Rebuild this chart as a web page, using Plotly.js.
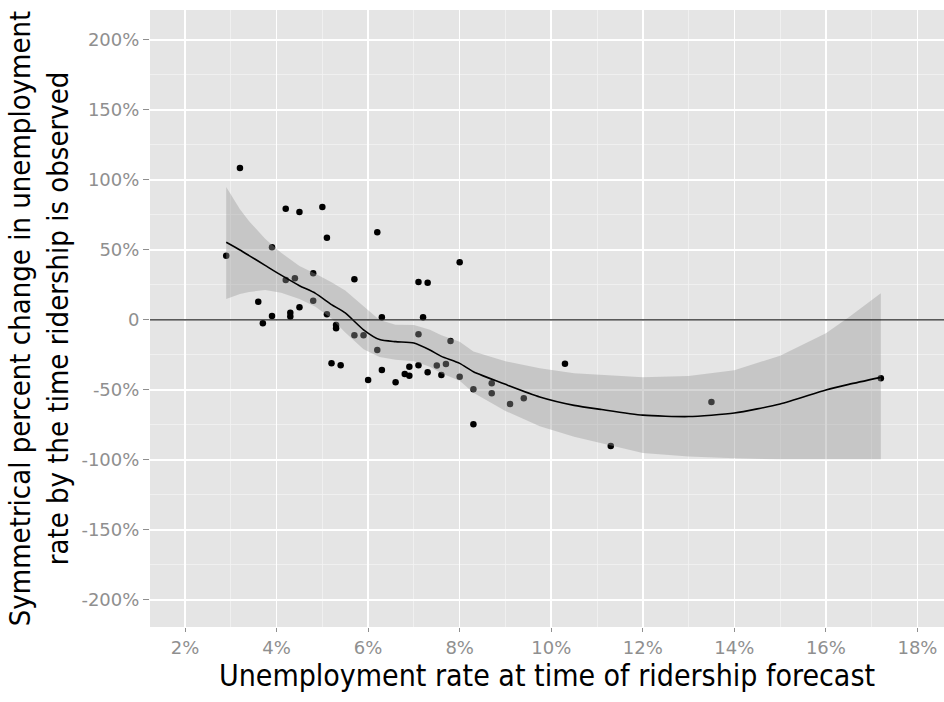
<!DOCTYPE html>
<html>
<head>
<meta charset="utf-8">
<script src="https://cdn.plot.ly/plotly-3.0.1.min.js"></script>
<style>
  html, body { margin: 0; padding: 0; background: #ffffff; }
  #chart { width: 944px; height: 702px; }
</style>
</head>
<body>
<div id="chart"></div>
<script>
// Observed points: unemployment rate at forecast (%) vs symmetrical % change
const unempRate = [2.9, 3.2, 3.6, 3.7, 3.9, 3.9, 4.2, 4.2, 4.4, 4.3, 4.3, 4.5, 4.5, 4.8, 4.8,
  5.0, 5.1, 5.1, 5.3, 5.3, 5.2, 5.4, 5.7, 5.7, 5.9, 6.0, 6.2, 6.2, 6.3, 6.3, 6.6, 6.8, 6.9, 6.9,
  7.1, 7.3, 7.1, 7.2, 7.1, 7.3, 7.5, 7.6, 7.7, 7.8, 8.0, 8.0, 8.3, 8.3, 8.7, 8.7, 9.1, 9.4,
  10.3, 11.3, 13.5, 17.2];
const pctChange = [45.9, 108.6, 13.1, -2.4, 2.9, 51.9, 79.5, 28.6, 29.8, 5.2, 2.4, 77.1, 9.1, 33.4, 13.8,
  80.7, 58.8, 4.1, -3.6, -5.9, -30.9, -32.4, 29.1, -10.9, -10.9, -42.9, 62.6, -21.4, 1.9, -35.7, -44.5, -38.6, -33.4, -39.8,
  27.1, 26.6, -10.2, 1.9, -32.4, -37.4, -32.6, -39.3, -31.4, -15.0, 41.2, -40.5, -49.5, -74.5, -45.2, -52.4, -60.0, -55.9,
  -31.2, -90.0, -58.6, -41.6];

// Loess smooth and its confidence band
const smoothX = [2.9, 3.2, 3.4, 3.75, 4.1, 4.5, 4.85, 5.2, 5.5, 5.9, 6.25, 6.6, 7.0, 7.35, 7.6, 8.0, 8.3,
  9.0, 9.75, 10.5, 11.1, 12.0, 13.0, 14.0, 15.0, 16.0, 16.5, 17.2];
const smoothY = [55.5, 50.0, 46.0, 39.0, 32.0, 24.5, 19.0, 11.0, 5.0, -7.0, -14.0, -15.5, -16.5, -21.5, -26.0, -31.0, -37.0,
  -46.0, -55.0, -61.0, -64.0, -68.0, -69.0, -66.5, -60.0, -50.0, -46.0, -41.0];
const smoothUpper = [95.0, 79.0, 70.5, 58.0, 48.0, 38.5, 33.0, 27.0, 21.0, 9.5, 0.0, -3.5, -3.6, -7.0, -11.0, -15.5, -22.5,
  -29.5, -34.5, -38.0, -39.3, -41.0, -40.0, -36.0, -25.5, -9.5, 2.0, 19.0];
const smoothLower = [15.0, 18.6, 20.0, 21.4, 19.5, 15.0, 9.5, 1.0, -9.0, -21.0, -26.5, -28.5, -29.5, -33.5, -38.0, -43.5, -52.0,
  -65.0, -76.0, -83.5, -88.0, -95.0, -97.5, -98.8, -99.5, -99.5, -99.5, -99.5];

// Tick labels
const xTickVals = [2, 4, 6, 8, 10, 12, 14, 16, 18];
const xTickText = ['2%', '4%', '6%', '8%', '10%', '12%', '14%', '16%', '18%'];
const xMinorVals = [1, 3, 5, 7, 9, 11, 13, 15, 17];
const yTickVals = [200, 150, 100, 50, 0, -50, -100, -150, -200];
const yTickText = ['200%', '150%', '100%', '50%', '0', '-50%', '-100%', '-150%', '-200%'];
const yMinorVals = [175, 125, 75, 25, -25, -75, -125, -175, -225];

const TITLE_FONT = '"DejaVu Sans Condensed", "DejaVu Sans", sans-serif';
const TICK_FONT = '"DejaVu Sans", sans-serif';

const traces = [
  {
    type: 'scatter', mode: 'markers', x: unempRate, y: pctChange,
    marker: { color: '#000000', size: 6.5, line: { width: 0 } },
    hoverinfo: 'skip', showlegend: false
  },
  {
    type: 'scatter', mode: 'lines', x: smoothX, y: smoothLower,
    line: { width: 0, color: 'rgba(0,0,0,0)' }, hoverinfo: 'skip', showlegend: false
  },
  {
    type: 'scatter', mode: 'lines', x: smoothX, y: smoothUpper,
    fill: 'tonexty', fillcolor: 'rgba(153,153,153,0.4)',
    line: { width: 0, color: 'rgba(0,0,0,0)' }, hoverinfo: 'skip', showlegend: false
  },
  {
    type: 'scatter', mode: 'lines', x: smoothX, y: smoothY,
    line: { color: '#000000', width: 1.6, shape: 'spline', smoothing: 0.6 },
    hoverinfo: 'skip', showlegend: false
  }
];

const layout = {
  width: 944, height: 702,
  margin: { l: 150, r: 0, t: 10, b: 75, pad: 0 },
  paper_bgcolor: '#ffffff',
  plot_bgcolor: '#E5E5E5',
  font: { family: TITLE_FONT, color: '#000000' },
  showlegend: false,
  xaxis: {
    range: [1.235, 18.58],
    tickmode: 'array', tickvals: xTickVals, ticktext: xTickText,
    ticks: 'outside', ticklen: 4, tickwidth: 1, tickcolor: '#8f8f8f',
    tickfont: { family: TICK_FONT, size: 18, color: '#8f8f8f' },
    showgrid: true, gridcolor: '#ffffff', gridwidth: 1.6,
    minor: { tickmode: 'array', tickvals: xMinorVals, showgrid: true, gridcolor: '#F2F2F2', gridwidth: 0.8, ticks: '' },
    zeroline: false, showline: false,
    title: { text: 'Unemployment rate at time of ridership forecast', font: { family: TITLE_FONT, size: 30, color: '#000000' }, standoff: 2 }
  },
  yaxis: {
    range: [-219.3, 221.4],
    tickmode: 'array', tickvals: yTickVals, ticktext: yTickText,
    ticks: 'outside', ticklen: 6, tickwidth: 1, tickcolor: '#8f8f8f',
    tickfont: { family: TICK_FONT, size: 18, color: '#8f8f8f' },
    showgrid: true, gridcolor: '#ffffff', gridwidth: 1.6,
    minor: { tickmode: 'array', tickvals: yMinorVals, showgrid: true, gridcolor: '#F2F2F2', gridwidth: 0.8, ticks: '' },
    zeroline: false, showline: false,
    title: { text: 'Symmetrical percent change in unemployment<br>rate by the time ridership is observed', font: { family: TITLE_FONT, size: 29, color: '#000000' }, standoff: 4 }
  },
  shapes: [
    { type: 'line', layer: 'above', xref: 'paper', x0: 0, x1: 1, yref: 'y', y0: 0, y1: 0,
      line: { color: '#222222', width: 1.3 } }
  ]
};

Plotly.newPlot('chart', traces, layout, { displayModeBar: false, staticPlot: true });
</script>
</body>
</html>
